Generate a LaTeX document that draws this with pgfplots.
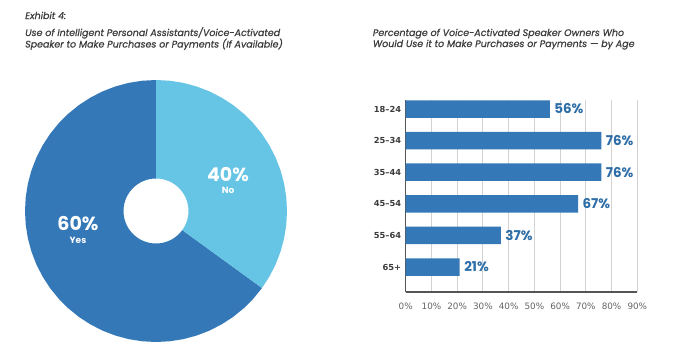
\documentclass[border=0pt]{standalone}
\usepackage{pgfplots}
\pgfplotsset{compat=1.18}
\usepgfplotslibrary{polar}
\usepackage{fontspec}
\setmainfont{Poppins}
\newfontfamily\titlefont{Poppins}[FakeBold=0.6]
\newfontfamily\djv{DejaVu Sans}
\definecolor{darkblue}{RGB}{52,120,183}
\definecolor{lightblue}{RGB}{102,196,228}
\definecolor{valblue}{RGB}{46,110,168}
\definecolor{titlegray}{RGB}{60,60,60}
\definecolor{axisgray}{RGB}{85,85,85}
\definecolor{gridgray}{RGB}{210,210,210}
\definecolor{tickgray}{RGB}{100,100,100}
\begin{document}
\begin{tikzpicture}
\fill[white] (0,0) rectangle (700bp,-361bp);
\path[use as bounding box] (0,0) rectangle (700bp,-361bp);
% titles
\tikzset{ttl/.style={anchor=base west, inner sep=0pt, text=titlegray, font=\titlefont\fontsize{9.5bp}{11bp}\selectfont\itshape}}
\node[ttl] at (25bp,-19bp) {Exhibit 4:};
\node[ttl] at (25bp,-36bp) {Use of Intelligent Personal Assistants/Voice-Activated};
\node[ttl] at (25bp,-47.5bp) {Speaker to Make Purchases or Payments (If Available)};
\node[ttl] at (372.7bp,-36bp) {Percentage of Voice-Activated Speaker Owners Who};
\node[ttl] at (372.7bp,-47bp) {Would Use it to Make Purchases or Payments — by Age};

% donut
\begin{polaraxis}[
  at={(156bp,-211bp)}, anchor=center,
  scale only axis, width=262bp, height=262bp,
  xmin=0, xmax=360, ymin=0, ymax=131,
  hide axis, clip=false]
\addplot[fill=darkblue, draw=none] coordinates {
(90,131)(96,131)(102,131)(108,131)(114,131)(120,131)(126,131)(132,131)(138,131)(144,131)
(150,131)(156,131)(162,131)(168,131)(174,131)(180,131)(186,131)(192,131)(198,131)(204,131)
(210,131)(216,131)(222,131)(228,131)(234,131)(240,131)(246,131)(252,131)(258,131)(264,131)
(270,131)(276,131)(282,131)(288,131)(294,131)(300,131)(306,131)(312,131)(318,131)(324,131)
(324,32.5)(318,32.5)(312,32.5)(306,32.5)(300,32.5)(294,32.5)(288,32.5)(282,32.5)(276,32.5)(270,32.5)
(264,32.5)(258,32.5)(252,32.5)(246,32.5)(240,32.5)(234,32.5)(228,32.5)(222,32.5)(216,32.5)(210,32.5)
(204,32.5)(198,32.5)(192,32.5)(186,32.5)(180,32.5)(174,32.5)(168,32.5)(162,32.5)(156,32.5)(150,32.5)
(144,32.5)(138,32.5)(132,32.5)(126,32.5)(120,32.5)(114,32.5)(108,32.5)(102,32.5)(96,32.5)(90,32.5)
};
\addplot[fill=lightblue, draw=none] coordinates {
(90,131)(84,131)(78,131)(72,131)(66,131)(60,131)(54,131)(48,131)(42,131)(36,131)(30,131)
(24,131)(18,131)(12,131)(6,131)(0,131)(-6,131)(-12,131)(-18,131)(-24,131)(-30,131)(-36,131)
(-36,32.5)(-30,32.5)(-24,32.5)(-18,32.5)(-12,32.5)(-6,32.5)(0,32.5)(6,32.5)(12,32.5)(18,32.5)
(24,32.5)(30,32.5)(36,32.5)(42,32.5)(48,32.5)(54,32.5)(60,32.5)(66,32.5)(72,32.5)(78,32.5)(84,32.5)(90,32.5)
};
\end{polaraxis}
\node[anchor=base, inner sep=0pt, text=white, font=\fontsize{19bp}{21bp}\selectfont\bfseries] at (78bp,-230bp) {60\%};
\node[anchor=base, inner sep=0pt, text=white, font=\fontsize{9bp}{10bp}\selectfont\bfseries] at (78bp,-243bp) {Yes};
\node[anchor=base, inner sep=0pt, text=white, font=\fontsize{19bp}{21bp}\selectfont\bfseries] at (228bp,-181bp) {40\%};
\node[anchor=base, inner sep=0pt, text=white, font=\fontsize{9bp}{10bp}\selectfont\bfseries] at (228bp,-193bp) {No};

% bar chart
\begin{axis}[
  at={(405.7bp,-292bp)}, anchor=south west,
  scale only axis, width=231.6bp, height=192bp,
  xbar, bar width=17.5bp,
  xmin=0, xmax=90, ymin=-0.79, ymax=5.285,
  axis x line*=bottom, axis y line*=left,
  axis line style={axisgray, line width=1.3bp},
  x axis line style={-}, y axis line style={-},
  xtick={0,10,...,90}, xticklabel={\pgfmathprintnumber{\tick}\%},
  xticklabel style={font=\djv\fontsize{8.8bp}{9bp}\selectfont, text=tickgray, yshift=-7bp},
  ytick={0,1,2,3,4,5},
  yticklabels={65+,55–64,45–54,35–44,25–34,18–24},
  yticklabel style={font=\djv\bfseries\fontsize{8.3bp}{9bp}\selectfont, text=titlegray, xshift=-1bp},
  major tick length=0pt,
  xmajorgrids, major grid style={gridgray, line width=1bp},
  /pgf/number format/assume math mode=true,
  nodes near coords={\pgfmathprintnumber{\pgfplotspointmeta}\%},
  point meta=x,
  every node near coord/.append style={anchor=west, text=valblue, font=\fontsize{13.5bp}{14bp}\selectfont\bfseries, xshift=1bp},
  clip=false]
\addplot[fill=darkblue, draw=none] coordinates {
(56,5) (76,4) (76,3) (67,2) (37,1) (21,0)
};
\end{axis}
\end{tikzpicture}
\end{document}
